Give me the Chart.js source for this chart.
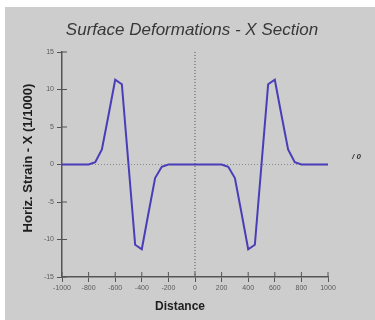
<!DOCTYPE html>
<html>
<head>
<meta charset="utf-8">
<script src="https://cdn.jsdelivr.net/npm/chart.js@4/dist/chart.umd.min.js"></script>
<style>
  html, body { margin: 0; padding: 0; background: #fff; }
  #wrap { width: 375px; height: 320px; }
</style>
</head>
<body>
<div id="wrap"><canvas id="chart" width="375" height="320"></canvas></div>
<script>
// Distance along the section and horizontal strain (x 1/1000)
const distance = [
    -1000, -950, -900, -850, -800, -750, -700, -650, -600, -550, -500,
    -450, -400, -350, -300, -250, -200, -150, -100, -50, 0,
    50, 100, 150, 200, 250, 300, 350, 400, 450, 500,
    550, 600, 650, 700, 750, 800, 850, 900, 950, 1000
];
const strain = [
    0, 0, 0, 0, 0, 0.3, 2.0, 6.6, 11.3, 10.7, 0,
    -10.7, -11.3, -6.5, -1.8, -0.3, 0, 0, 0, 0, 0,
    0, 0, 0, 0, -0.3, -1.8, -6.5, -11.3, -10.7, 0,
    10.7, 11.3, 6.6, 2.0, 0.3, 0, 0, 0, 0, 0
];
const xTicks = [-1000, -800, -600, -400, -200, 0, 200, 400, 600, 800, 1000];
const yTicks = [-15, -10, -5, 0, 5, 10, 15];

const chartTitle = "Surface Deformations - X Section";
const xTitle = "Distance";
const yTitle = "Horiz. Strain - X (1/1000)";

// gray panel behind everything
const panelBg = {
    id: "panelBg",
    beforeDraw(chart) {
        const ctx = chart.ctx;
        ctx.save();
        ctx.fillStyle = "#ffffff";
        ctx.fillRect(0, 0, chart.width, chart.height);
        ctx.fillStyle = "#cdcdcd";
        ctx.fillRect(5, 7, chart.width - 5, chart.height - 7);
        ctx.restore();
    }
};

// dotted zero lines and inner halves of the tick marks
const zeroLines = {
    id: "zeroLines",
    beforeDatasetsDraw(chart) {
        const { ctx, chartArea: a, scales: { x, y } } = chart;
        const x0 = x.getPixelForValue(0);
        const y0 = y.getPixelForValue(0);
        ctx.save();
        ctx.lineWidth = 1;
        ctx.setLineDash([1, 2]);
        ctx.strokeStyle = "#8a8a8a";
        ctx.beginPath();
        ctx.moveTo(a.left, y0);
        ctx.lineTo(a.right, y0);
        ctx.stroke();
        ctx.strokeStyle = "#555";
        ctx.beginPath();
        ctx.moveTo(x0, a.top);
        ctx.lineTo(x0, a.bottom);
        ctx.stroke();
        ctx.setLineDash([]);
        ctx.strokeStyle = "#555";
        ctx.beginPath();
        yTicks.forEach(v => {
            const py = y.getPixelForValue(v);
            ctx.moveTo(a.left, py);
            ctx.lineTo(a.left + 5, py);
        });
        xTicks.forEach(v => {
            const px = x.getPixelForValue(v);
            ctx.moveTo(px, a.bottom);
            ctx.lineTo(px, a.bottom - 5);
        });
        ctx.stroke();
        ctx.restore();
    }
};

// titles
const titles = {
    id: "titles",
    afterDraw(chart) {
        const ctx = chart.ctx;
        ctx.save();
        ctx.textAlign = "center";
        ctx.textBaseline = "middle";
        ctx.fillStyle = "#383838";
        ctx.font = "italic 17px 'Liberation Sans', Arial, sans-serif";
        ctx.fillText(chartTitle, 192, 30);
        ctx.fillStyle = "#1e1e1e";
        ctx.font = "bold 12px 'Liberation Sans', Arial, sans-serif";
        ctx.fillText(xTitle, 180, 307);
        ctx.translate(28, 158);
        ctx.rotate(-Math.PI / 2);
        ctx.font = "bold 13px 'Liberation Sans', Arial, sans-serif";
        ctx.fillText(yTitle, 0, 0);
        ctx.restore();
        ctx.save();
        ctx.fillStyle = "#333";
        ctx.font = "italic bold 8px 'Liberation Sans', Arial, sans-serif";
        ctx.textBaseline = "middle";
        ctx.fillText("/ 0", 352, 157);
        ctx.restore();
    }
};

const tickFont = { family: "'Liberation Sans', Arial, sans-serif", size: 7 };

new Chart(document.getElementById("chart").getContext("2d"), {
    type: "line",
    data: {
        datasets: [{
            data: distance.map((d, i) => ({ x: d, y: strain[i] })),
            borderColor: "#4a3db8",
            borderWidth: 2,
            pointRadius: 0,
            tension: 0,
            fill: false
        }]
    },
    options: {
        responsive: false,
        animation: false,
        layout: { padding: { left: 5, right: 47, top: 52, bottom: 0 } },
        plugins: {
            legend: { display: false },
            tooltip: { enabled: false },
            title: { display: false }
        },
        scales: {
            x: {
                type: "linear",
                min: -1000,
                max: 1000,
                afterBuildTicks: s => { s.ticks = xTicks.map(v => ({ value: v })); },
                afterFit: s => { s.height = 43; },
                grid: { drawOnChartArea: false, drawTicks: true, tickLength: 5, tickColor: "#555" },
                border: { color: "#555", width: 1.5 },
                ticks: { font: tickFont, color: "#5a5a5a", padding: 2, maxRotation: 0, autoSkip: false,
                         callback: v => String(v) }
            },
            y: {
                type: "linear",
                min: -15,
                max: 15,
                afterBuildTicks: s => { s.ticks = yTicks.map(v => ({ value: v })); },
                afterFit: s => { s.width = 57; },
                grid: { drawOnChartArea: false, drawTicks: true, tickLength: 5, tickColor: "#555" },
                border: { color: "#555", width: 1.5 },
                ticks: { font: tickFont, color: "#5a5a5a", padding: 3, callback: v => String(v) }
            }
        }
    },
    plugins: [panelBg, zeroLines, titles]
});
</script>
</body>
</html>
